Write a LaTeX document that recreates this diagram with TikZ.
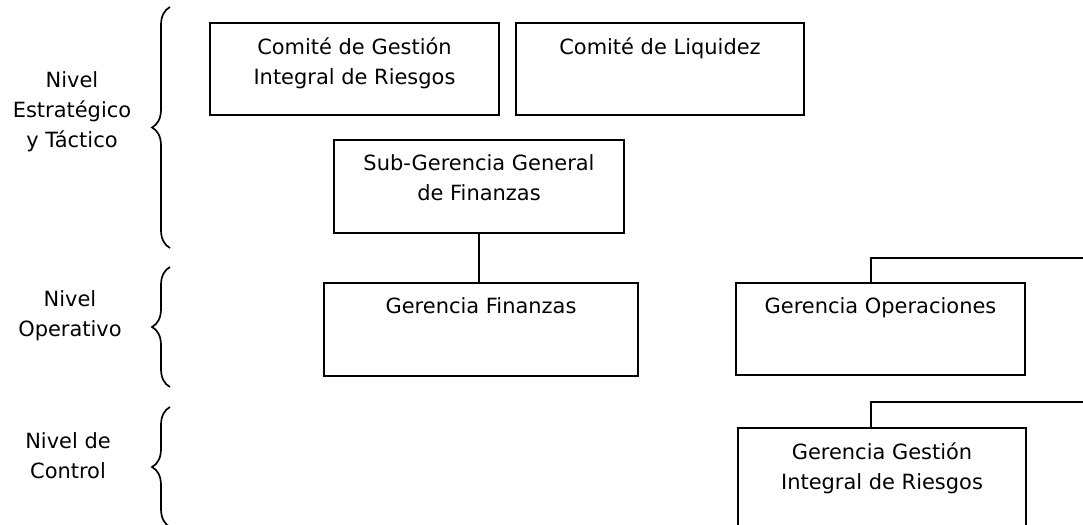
\documentclass[tikz,border=0pt]{standalone}
\usepackage{fontspec}
\setmainfont{DejaVu Sans}
\usetikzlibrary{decorations.pathreplacing}

\begin{document}
\begin{tikzpicture}[
        x=0.025cm, y=-0.025cm,
        box/.style={rectangle, draw, line width=1.3pt, minimum width=7.225cm, minimum height=2.3cm, inner sep=0pt},
        boxtext/.style={anchor=north, align=center, inner sep=0pt, yshift=-0.39cm, font=\fontsize{14.9}{21.3}\selectfont},
        lvl/.style={align=center, inner sep=0pt, font=\fontsize{14.9}{21.3}\selectfont},
        llave/.style={decorate, decoration={brace, amplitude=0.45cm}, line width=1.2pt},
        link/.style={line width=1.3pt}
    ]
        \path[use as bounding box, clip] (0,0) rectangle (1083,525);

        % Level braces and labels
        \draw[llave] (170,248) -- (170,7);
        \draw[llave] (170,387) -- (170,267);
        \draw[llave] (170,527) -- (170,407);
        \node[lvl] (est) at (72,112) {Nivel\\Estratégico\\y Táctico};
        \node[lvl] (ope) at (70,316) {Nivel\\Operativo};
        \node[lvl] (con) at (68,456) {Nivel de\\Control};

        % Committees
        \node[box] (cgir) at (354.5,69) {};
        \node[box, minimum width=7.2cm] (cliq) at (660,69) {};
        \node[boxtext] (cgir-t) at (cgir.north) {Comité de Gestión\\Integral de Riesgos};
        \node[boxtext] (cliq-t) at (cliq.north) {Comité de Liquidez};

        % Management units
        \node[box, minimum width=7.25cm, minimum height=2.325cm] (sgf) at (479,186.5) {};
        \node[box, minimum width=7.85cm, minimum height=2.325cm] (gfin) at (481,329.5) {};
        \node[box] (gope) at (880.5,329) {};
        \node[box, minimum width=7.2cm, minimum height=2.75cm] (ggir) at (882,483) {};
        \node[boxtext] (sgf-t) at (sgf.north) {Sub-Gerencia General\\de Finanzas};
        \node[boxtext] (gfin-t) at (gfin.north) {Gerencia Finanzas};
        \node[boxtext] (gope-t) at (gope.north) {Gerencia Operaciones};
        \node[boxtext] (ggir-t) at (ggir.north) {Gerencia Gestión\\Integral de Riesgos};

        % Connect units
        \coordinate (ope-fin) at (1090,258);
        \coordinate (gir-fin) at (1090,402);
        \draw[link] (sgf.south) -- (sgf.south |- gfin.north);
        \draw[link] ([xshift=-0.24cm]gope.north) |- (ope-fin);
        \draw[link] ([xshift=-0.275cm]ggir.north) |- (gir-fin);
    \end{tikzpicture}
\end{document}
